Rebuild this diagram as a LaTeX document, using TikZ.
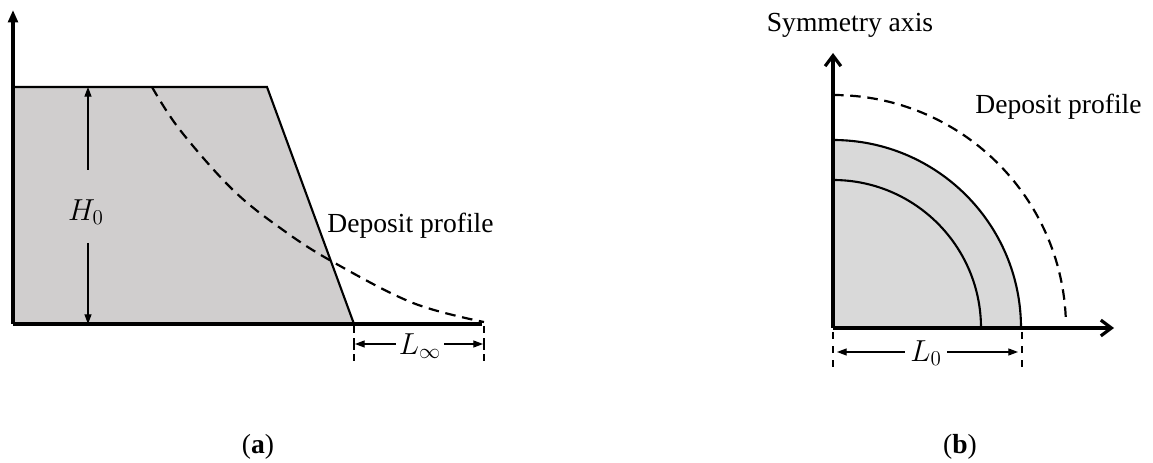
\documentclass[tikz,border=0pt]{standalone}
\usepackage{fontspec}
\setmainfont{Liberation Serif}
\usetikzlibrary{arrows.meta}
\begin{document}
\begin{tikzpicture}[x=0.02cm,y=0.02cm,
  txt/.style={font=\fontsize{15.7}{18}\selectfont, inner sep=0pt},
  mtxt/.style={font=\fontsize{18}{20}\selectfont, inner sep=0pt},
  axis/.style={line width=1.8pt},
  outline/.style={line width=1.2pt},
  dashline/.style={line width=1.25pt, dash pattern=on 6pt off 3.8pt},
  tickline/.style={line width=0.9pt, dash pattern=on 4pt off 4pt},
  dimline/.style={line width=0.65pt, -{Triangle[length=5.5pt,width=4pt]}},
  barline/.style={line width=1pt},
]
\useasboundingbox (0,0) rectangle (1153,463);
\definecolor{fillA}{HTML}{D0CECE}
\definecolor{fillB}{HTML}{D9D9D9}

% ---------------- panel (a) ----------------
\coordinate (aO) at (13,139);
\coordinate (aTL) at (13,376);
\coordinate (aTR) at (267,376);
\coordinate (aBR) at (354,139);
\coordinate (aYtop) at (13,453);
\coordinate (aXend) at (482,139);
\fill[fillA] (aO) -- (aTL) -- (aTR) -- (aBR) -- cycle;
\draw[outline] (aTL) -- (aTR) -- (aBR);
\draw[axis,-{Triangle[length=7pt,width=5.5pt]}] (aO) -- (aYtop);
\draw[axis] (aO) -- (aXend);

% H0 dimension
\node[mtxt] (H0) at (86,251) {$H_0$};
\coordinate (hTop) at (88,376);
\coordinate (hBot) at (88,139);
\draw[dimline] (88,293) -- (hTop);
\draw[dimline] (88,220) -- (hBot);

% dashed deposit curve
\draw[dashline] plot[smooth, tension=0.6] coordinates
  {(152,376) (180,333) (233,273) (283,233) (333,201) (413,160) (484,141)};
\node[txt, anchor=west] (dpa) at (327,237) {Deposit profile};

% L infinity dimension
\draw[tickline] (354,137) -- (354,101);
\draw[tickline] (484,137) -- (484,101);
\node[mtxt] (Linf) at (420,117) {$L_\infty$};
\coordinate (la) at (355,119);
\coordinate (lb) at (483,119);
\draw[dimline] (Linf.west) ++(-3,2) -- (la);
\draw[dimline] (Linf.east) ++(3,2) -- (lb);
\draw[barline] (354,113) -- (354,125);
\draw[barline] (484,113) -- (484,125);

\node[txt] (capa) at (258,16) {(\textbf{a})};

% ---------------- panel (b) ----------------
\coordinate (bO) at (833,135);
\fill[fillB] (bO) -- (1021,135) arc[start angle=0, end angle=90, radius=188] -- cycle;
\draw[outline] (1021,135) arc[start angle=0, end angle=90, radius=188];
\draw[outline] (981,135) arc[start angle=0, end angle=90, radius=148];
\draw[dashline] (833,368) arc[start angle=90, end angle=1.5, radius=233];
\coordinate (bYtop) at (833,410);
\coordinate (bXend) at (1114,135);
\draw[axis,-{Straight Barb[length=6pt,width=9pt]}] (bO) -- (bYtop);
\draw[axis,-{Straight Barb[length=6pt,width=9pt]}] (bO) -- (bXend);

\node[txt] (sym) at (850,438) {Symmetry axis};
\node[txt, anchor=west] (dpb) at (975,356) {Deposit profile};

% L0 dimension
\draw[tickline] (833,131) -- (833,95);
\draw[tickline] (1022,131) -- (1022,95);
\node[mtxt] (L0) at (926,110) {$L_0$};
\coordinate (l0a) at (837,111);
\coordinate (l0b) at (1018,111);
\draw[dimline] (L0.west) ++(-5,1) -- (l0a);
\draw[dimline] (L0.east) ++(5,1) -- (l0b);

\node[txt] (capb) at (960,16) {(\textbf{b})};
\end{tikzpicture}
\end{document}
